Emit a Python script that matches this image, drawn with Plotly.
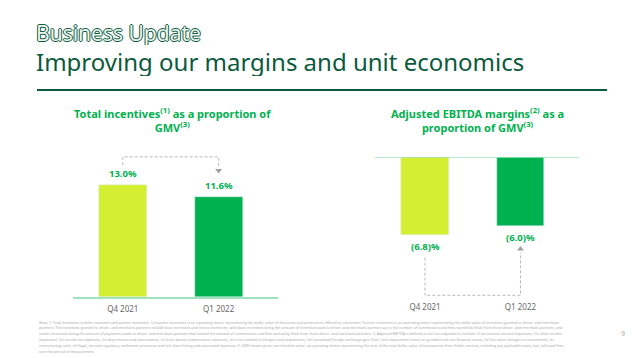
import plotly.graph_objects as go

# ---- data ----
categories = ["Q4 2021", "Q1 2022"]
incentives = [13.0, 11.6]          # % of GMV
ebitda = [-6.8, -6.0]              # % of GMV
incentive_labels = ["13.0%", "11.6%"]
ebitda_labels = ["(6.8)%", "(6.0)%"]
bar_colors = ["#d4ef32", "#00b14f"]

W, H = 640, 358
def py(px):
    return 1 - px / H
def pxx(px):
    return px / W

GREEN = "#00b14f"
DARK = "#0b5a3c"
GRAY_DASH = "#b8b8b8"
FONT = "Noto Sans"

fig = go.Figure()
xs = [0, 1]
fig.add_trace(go.Bar(x=xs, y=incentives, marker_color=bar_colors, width=0.5,
                     xaxis="x", yaxis="y", hoverinfo="skip"))
fig.add_trace(go.Bar(x=xs, y=ebitda, marker_color=bar_colors, width=0.5,
                     xaxis="x2", yaxis="y2", hoverinfo="skip"))

L_RANGE = [0, (297 - 150) / 8.6]
R_RANGE = [-(297 - 157) / 11.5, 0]
tickfont = dict(family=FONT, size=8, color="#666666")

fig.update_layout(
    width=W, height=H, margin=dict(l=0, r=0, t=0, b=0),
    paper_bgcolor="white", plot_bgcolor="rgba(0,0,0,0)",
    showlegend=False, bargap=0,
    xaxis=dict(domain=[pxx(73), pxx(278)], range=[-0.52, 1.62], anchor="y",
               tickvals=xs, ticktext=categories, tickfont=tickfont, ticks="",
               ticklabelstandoff=4,
               showgrid=False, zeroline=False, showline=True,
               linecolor="#9fe3bd", linewidth=1.5, fixedrange=True),
    yaxis=dict(domain=[py(297), py(150)], range=L_RANGE, visible=False,
               showgrid=False, zeroline=False),
    xaxis2=dict(domain=[pxx(375), pxx(579)], range=[-0.524, 1.613], anchor="y2",
                tickvals=xs, ticktext=categories, tickfont=tickfont, ticks="",
                ticklabelstandoff=4,
                showgrid=False, zeroline=False, showline=False),
    yaxis2=dict(domain=[py(297), py(157)], range=R_RANGE, visible=False,
                showgrid=False, zeroline=False),
)

shapes = []
annotations = []

# zero line on right chart
shapes.append(dict(type="line", xref="x2 domain", yref="y2", x0=0, x1=1, y0=0, y1=0,
                   line=dict(color="#9fe3bd", width=1.5)))

# value labels
for i in range(2):
    annotations.append(dict(x=xs[i], y=incentives[i], xref="x", yref="y",
                            text="<b>%s</b>" % incentive_labels[i], showarrow=False,
                            yanchor="bottom", yshift=3,
                            font=dict(family=FONT, size=9.5, color=GREEN)))
    annotations.append(dict(x=xs[i], y=ebitda[i], xref="x2", yref="y2",
                            text="<b>%s</b>" % ebitda_labels[i], showarrow=False,
                            yanchor="top", yshift=-3,
                            font=dict(family=FONT, size=9.5, color=GREEN)))

DASH = "3px,2px"
# dashed connector, left (above bars)
l_start = incentives[0] + 2.35
l_top = max(incentives) + 3.3
l_tip = incentives[1] + 3.1
shapes.append(dict(type="path", xref="x", yref="y",
                   path=f"M {xs[0]},{l_start} L {xs[0]},{l_top} L {xs[1]},{l_top} L {xs[1]},{l_tip + 0.4}",
                   line=dict(color=GRAY_DASH, width=1, dash=DASH)))
fig.add_trace(go.Scatter(x=[xs[1]], y=[l_tip], mode="markers", xaxis="x", yaxis="y",
                         marker=dict(symbol="triangle-down", size=6, color="#a0a0a0"),
                         hoverinfo="skip"))

# dashed connector, right (below bars)
r_start = ebitda[0] - 1.95
r_bot = R_RANGE[0] + 0.15
r_tip = ebitda[1] - 2.0
shapes.append(dict(type="path", xref="x2", yref="y2",
                   path=f"M {xs[0]},{r_start} L {xs[0]},{r_bot} L {xs[1]},{r_bot} L {xs[1]},{r_tip - 0.3}",
                   line=dict(color=GRAY_DASH, width=1, dash=DASH)))
fig.add_trace(go.Scatter(x=[xs[1]], y=[r_tip], mode="markers", xaxis="x2", yaxis="y2",
                         marker=dict(symbol="triangle-up", size=6, color="#a0a0a0"),
                         hoverinfo="skip"))

# header
annotations.append(dict(x=pxx(35), y=py(19), xref="paper", yref="paper", xanchor="left",
                        yanchor="top", showarrow=False, text="Business Update",
                        height=25, borderpad=0, valign="middle",
                        font=dict(family=FONT, size=21, color="#eef5f1",
                                  shadow=f"1px 0 0 {DARK}, -1px 0 0 {DARK}, 0 1px 0 {DARK}, 0 -1px 0 {DARK}")))
annotations.append(dict(x=pxx(35), y=py(46), xref="paper", yref="paper", xanchor="left",
                        yanchor="top", showarrow=False,
                        height=29, borderpad=0, valign="middle",
                        text="Improving our margins and unit economics",
                        font=dict(family=FONT, size=24, color=DARK)))
shapes.append(dict(type="line", xref="paper", yref="paper", x0=pxx(37), x1=pxx(607),
                   y0=py(90), y1=py(90), line=dict(color=DARK, width=2)))

# chart titles
annotations.append(dict(x=pxx(172), y=py(120), xref="paper", yref="paper",
                        xanchor="center", yanchor="middle",
                        showarrow=False, align="center",
                        text="<b>Total incentives<sup>(1)</sup> as a proportion of<br>GMV<sup>(3)</sup></b>",
                        font=dict(family=FONT, size=11, color=GREEN)))
annotations.append(dict(x=pxx(477), y=py(120), xref="paper", yref="paper",
                        xanchor="center", yanchor="middle",
                        showarrow=False, align="center",
                        text="<b>Adjusted EBITDA margins<sup>(2)</sup> as a<br>proportion of GMV<sup>(3)</sup></b>",
                        font=dict(family=FONT, size=11, color=GREEN)))

# footnote
note_lines = [
    "Note: 1. Total incentives include consumer and partner incentives. Consumer incentives is an operating metric representing the dollar value of discounts and promotions offered to consumers. Partner incentives is an operating metric representing the dollar value of incentives granted to driver- and merchant-",
    "partners. The incentives granted to driver- and merchant-partners include base incentives and excess incentives, with base incentives being the amount of incentives paid to driver- and merchant-partners up to the number of commissions and fees earned by Grab from those driver- and merchant-partners, and",
    "excess incentives being the amount of payments made to driver- and merchant-partners that exceed the amount of commissions and fees earned by Grab from those driver- and merchant-partners. 2. Adjusted EBITDA is defined as net loss adjusted to exclude: (i) net interest income (expenses), (ii) other income",
    "(expenses), (iii) income tax expenses, (iv) depreciation and amortization, (v) stock-based compensation expenses, (vi) costs related to mergers and acquisitions, (vii) unrealized foreign exchange gain (loss), (viii) impairment losses on goodwill and non-financial assets, (ix) fair value changes on investments, (x)",
    "restructuring costs, (xi) legal, tax and regulatory settlement provisions and (xii) share listing and associated expenses. 3. GMV means gross merchandise value, an operating metric representing the sum of the total dollar value of transactions from Grab's services, including any applicable taxes, tips, tolls and fees,",
    "over the period of measurement.",
]
for i, line in enumerate(note_lines):
    annotations.append(dict(x=pxx(37), y=py(322 + i * 5.8), xref="paper", yref="paper",
                            xanchor="left", yanchor="middle", showarrow=False, text=line,
                            font=dict(family=FONT, size=3.6, color="#a8a8a8")))
annotations.append(dict(x=pxx(627), y=py(340), xref="paper", yref="paper",
                        showarrow=False, text="9",
                        font=dict(family=FONT, size=7, color="#a8a8a8")))

fig.update_layout(shapes=shapes, annotations=annotations)
fig.write_html("out.html", config={"displayModeBar": False},
               post_script="document.body.style.margin='0';document.body.style.overflow='hidden';")
